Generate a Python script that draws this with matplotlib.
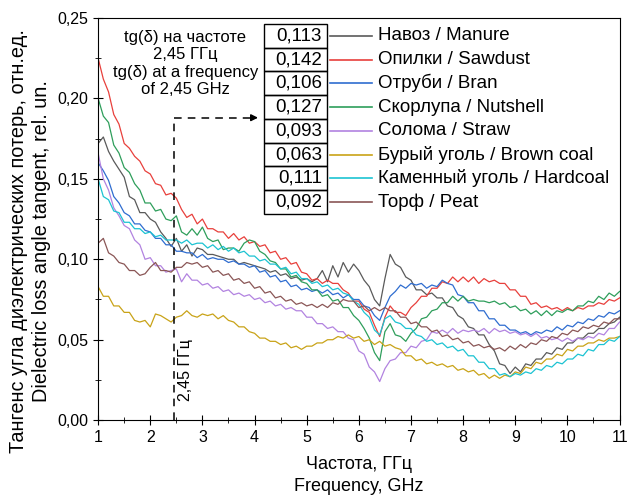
import numpy as np
import matplotlib.pyplot as plt
import matplotlib.ticker as mtick
from matplotlib.patches import Rectangle

plt.rcParams["font.family"] = ["Liberation Sans", "DejaVu Sans"]
plt.rcParams["font.size"] = 11

# frequency grid, GHz (1.0 ... 11.0, step 0.1)
freq = np.round(np.arange(1.0, 11.05, 0.1), 1)

manure = [0.172, 0.176, 0.167, 0.161, 0.156, 0.151, 0.139, 0.137, 0.129, 0.129,
          0.125, 0.123, 0.117, 0.113, 0.108, 0.113, 0.105, 0.109, 0.102, 0.107,
          0.106, 0.103, 0.103, 0.102, 0.101, 0.100, 0.100, 0.097, 0.098, 0.097,
          0.096, 0.095, 0.094, 0.092, 0.093, 0.090, 0.091, 0.088, 0.089, 0.087,
          0.088, 0.086, 0.088, 0.093, 0.086, 0.096, 0.089, 0.098, 0.092, 0.097,
          0.093, 0.087, 0.083, 0.075, 0.071, 0.088, 0.103, 0.097, 0.095, 0.089,
          0.087, 0.081, 0.081, 0.078, 0.079, 0.076, 0.076, 0.071, 0.070, 0.065,
          0.063, 0.058, 0.057, 0.053, 0.053, 0.047, 0.043, 0.035, 0.034, 0.029,
          0.033, 0.030, 0.035, 0.034, 0.038, 0.038, 0.042, 0.041, 0.045, 0.044,
          0.048, 0.048, 0.051, 0.051, 0.054, 0.054, 0.057, 0.057, 0.060, 0.061,
          0.064]
sawdust = [0.225, 0.212, 0.204, 0.190, 0.184, 0.172, 0.169, 0.164, 0.161, 0.155,
           0.153, 0.147, 0.146, 0.140, 0.141, 0.138, 0.131, 0.126, 0.128, 0.122,
           0.125, 0.119, 0.119, 0.117, 0.117, 0.113, 0.116, 0.112, 0.114, 0.110,
           0.111, 0.108, 0.109, 0.104, 0.105, 0.100, 0.101, 0.097, 0.098, 0.092,
           0.091, 0.087, 0.088, 0.085, 0.087, 0.085, 0.085, 0.081, 0.079, 0.074,
           0.074, 0.069, 0.067, 0.059, 0.052, 0.064, 0.071, 0.067, 0.067, 0.065,
           0.070, 0.073, 0.077, 0.077, 0.082, 0.082, 0.086, 0.085, 0.089, 0.086,
           0.089, 0.086, 0.089, 0.085, 0.088, 0.086, 0.087, 0.085, 0.085, 0.081,
           0.081, 0.077, 0.077, 0.072, 0.073, 0.070, 0.071, 0.069, 0.070, 0.068,
           0.070, 0.068, 0.070, 0.069, 0.071, 0.071, 0.073, 0.072, 0.075, 0.074,
           0.076]
bran = [0.160, 0.155, 0.149, 0.139, 0.135, 0.129, 0.127, 0.122, 0.122, 0.118,
        0.117, 0.113, 0.113, 0.109, 0.109, 0.105, 0.105, 0.104, 0.104, 0.101,
        0.103, 0.100, 0.101, 0.100, 0.100, 0.098, 0.099, 0.097, 0.097, 0.095,
        0.096, 0.092, 0.093, 0.089, 0.090, 0.086, 0.087, 0.083, 0.084, 0.081,
        0.082, 0.080, 0.081, 0.079, 0.081, 0.078, 0.079, 0.076, 0.078, 0.075,
        0.075, 0.071, 0.070, 0.065, 0.062, 0.070, 0.077, 0.080, 0.084, 0.082,
        0.085, 0.084, 0.085, 0.082, 0.084, 0.083, 0.087, 0.085, 0.084, 0.078,
        0.077, 0.073, 0.073, 0.068, 0.068, 0.063, 0.063, 0.059, 0.059, 0.056,
        0.056, 0.054, 0.055, 0.053, 0.055, 0.054, 0.056, 0.055, 0.058, 0.056,
        0.059, 0.058, 0.061, 0.060, 0.063, 0.062, 0.065, 0.064, 0.067, 0.066,
        0.068]
nutshell = [0.200, 0.189, 0.185, 0.171, 0.166, 0.157, 0.154, 0.147, 0.143, 0.135,
            0.135, 0.130, 0.131, 0.125, 0.124, 0.127, 0.117, 0.115, 0.119, 0.115,
            0.120, 0.113, 0.111, 0.112, 0.106, 0.107, 0.107, 0.105, 0.110, 0.112,
            0.111, 0.105, 0.103, 0.099, 0.098, 0.094, 0.094, 0.089, 0.090, 0.086,
            0.085, 0.081, 0.081, 0.077, 0.078, 0.074, 0.075, 0.070, 0.070, 0.065,
            0.062, 0.057, 0.051, 0.042, 0.037, 0.055, 0.060, 0.053, 0.052, 0.049,
            0.054, 0.057, 0.063, 0.064, 0.068, 0.069, 0.073, 0.073, 0.077, 0.074,
            0.077, 0.074, 0.075, 0.074, 0.074, 0.073, 0.074, 0.072, 0.073, 0.070,
            0.071, 0.068, 0.069, 0.066, 0.068, 0.065, 0.068, 0.065, 0.068, 0.067,
            0.069, 0.068, 0.071, 0.071, 0.074, 0.073, 0.077, 0.075, 0.079, 0.077,
            0.080]
straw = [0.166, 0.150, 0.143, 0.132, 0.127, 0.121, 0.119, 0.112, 0.109, 0.100,
         0.101, 0.096, 0.096, 0.092, 0.093, 0.094, 0.086, 0.091, 0.087, 0.087,
         0.084, 0.085, 0.082, 0.083, 0.080, 0.081, 0.078, 0.079, 0.077, 0.078,
         0.075, 0.076, 0.073, 0.074, 0.071, 0.072, 0.069, 0.070, 0.068, 0.068,
         0.064, 0.064, 0.060, 0.060, 0.057, 0.058, 0.055, 0.055, 0.051, 0.050,
         0.043, 0.041, 0.033, 0.030, 0.024, 0.032, 0.037, 0.038, 0.042, 0.042,
         0.046, 0.045, 0.049, 0.050, 0.055, 0.054, 0.056, 0.054, 0.057, 0.054,
         0.056, 0.055, 0.056, 0.055, 0.057, 0.054, 0.057, 0.055, 0.056, 0.054,
         0.055, 0.053, 0.054, 0.052, 0.054, 0.051, 0.052, 0.050, 0.051, 0.049,
         0.051, 0.049, 0.051, 0.050, 0.052, 0.051, 0.054, 0.053, 0.057, 0.057,
         0.061]
brown_coal = [0.083, 0.077, 0.077, 0.071, 0.071, 0.067, 0.067, 0.062, 0.061, 0.062,
              0.058, 0.066, 0.065, 0.063, 0.061, 0.064, 0.065, 0.068, 0.065, 0.064,
              0.066, 0.065, 0.066, 0.063, 0.065, 0.062, 0.061, 0.058, 0.058, 0.055,
              0.054, 0.051, 0.051, 0.049, 0.049, 0.047, 0.048, 0.045, 0.046, 0.044,
              0.046, 0.046, 0.048, 0.048, 0.050, 0.050, 0.052, 0.051, 0.053, 0.051,
              0.052, 0.049, 0.050, 0.047, 0.049, 0.046, 0.047, 0.045, 0.044, 0.040,
              0.040, 0.037, 0.038, 0.035, 0.036, 0.034, 0.035, 0.033, 0.034, 0.031,
              0.032, 0.030, 0.031, 0.028, 0.029, 0.026, 0.028, 0.026, 0.028, 0.027,
              0.030, 0.029, 0.033, 0.032, 0.036, 0.035, 0.038, 0.038, 0.041, 0.040,
              0.044, 0.043, 0.046, 0.046, 0.048, 0.048, 0.050, 0.049, 0.051, 0.051,
              0.052]
hardcoal = [0.150, 0.139, 0.137, 0.130, 0.129, 0.123, 0.123, 0.119, 0.119, 0.116,
            0.117, 0.114, 0.115, 0.112, 0.112, 0.112, 0.110, 0.112, 0.109, 0.110,
            0.110, 0.107, 0.109, 0.106, 0.108, 0.105, 0.107, 0.104, 0.105, 0.102,
            0.102, 0.099, 0.100, 0.097, 0.097, 0.094, 0.095, 0.091, 0.092, 0.088,
            0.088, 0.085, 0.086, 0.083, 0.084, 0.081, 0.082, 0.079, 0.078, 0.074,
            0.072, 0.067, 0.064, 0.056, 0.053, 0.063, 0.065, 0.061, 0.060, 0.057,
            0.057, 0.053, 0.052, 0.049, 0.050, 0.047, 0.048, 0.045, 0.046, 0.043,
            0.044, 0.040, 0.040, 0.036, 0.036, 0.032, 0.032, 0.028, 0.029, 0.027,
            0.029, 0.028, 0.030, 0.029, 0.032, 0.031, 0.034, 0.033, 0.036, 0.035,
            0.038, 0.038, 0.041, 0.040, 0.044, 0.043, 0.047, 0.047, 0.050, 0.049,
            0.052]
peat = [0.110, 0.113, 0.104, 0.102, 0.098, 0.097, 0.093, 0.093, 0.090, 0.091,
        0.095, 0.098, 0.093, 0.093, 0.092, 0.095, 0.095, 0.098, 0.097, 0.098,
        0.095, 0.096, 0.092, 0.093, 0.090, 0.091, 0.087, 0.088, 0.085, 0.086,
        0.082, 0.083, 0.079, 0.080, 0.076, 0.077, 0.074, 0.075, 0.072, 0.073,
        0.071, 0.072, 0.070, 0.072, 0.070, 0.073, 0.072, 0.075, 0.074, 0.074,
        0.070, 0.071, 0.068, 0.070, 0.068, 0.070, 0.068, 0.068, 0.064, 0.064,
        0.060, 0.061, 0.058, 0.058, 0.055, 0.056, 0.052, 0.053, 0.050, 0.051,
        0.048, 0.049, 0.046, 0.047, 0.045, 0.046, 0.044, 0.045, 0.043, 0.046,
        0.044, 0.047, 0.045, 0.048, 0.047, 0.050, 0.049, 0.052, 0.051, 0.054,
        0.053, 0.056, 0.055, 0.058, 0.057, 0.059, 0.058, 0.061, 0.060, 0.063,
        0.063]

names = ["Навоз / Manure", "Опилки / Sawdust", "Отруби / Bran", "Скорлупа / Nutshell",
         "Солома / Straw", "Бурый уголь / Brown coal", "Каменный уголь / Hardcoal",
         "Торф / Peat"]
tg_245 = [0.113, 0.142, 0.106, 0.127, 0.093, 0.063, 0.111, 0.092]
colors = ["#5a5a5a", "#e8403c", "#2f6dd0", "#2e9e5b", "#b283e0", "#c9a318",
          "#1cc3d2", "#8a5656"]
series = [manure, sawdust, bran, nutshell, straw, brown_coal, hardcoal, peat]

f_mark = 2.45
y_mark = 0.188

fig, ax = plt.subplots(figsize=(6.29, 4.99), dpi=100)
fig.subplots_adjust(left=0.156, right=0.985, bottom=0.158, top=0.964)

for vals, col in zip(series, colors):
    ax.plot(freq, vals, color=col, lw=0.9)

ax.set_xlim(1, 11)
ax.set_ylim(0, 0.25)
ax.xaxis.set_major_locator(mtick.MultipleLocator(1))
ax.xaxis.set_minor_locator(mtick.MultipleLocator(0.5))
ax.yaxis.set_major_locator(mtick.MultipleLocator(0.05))
ax.yaxis.set_minor_locator(mtick.MultipleLocator(0.025))
ax.yaxis.set_major_formatter(mtick.FuncFormatter(lambda v, p: f"{v:.2f}".replace('.', ',')))
ax.tick_params(which='both', direction='inout', top=False, right=False, labelsize=11.5)
ax.tick_params(which='major', length=7)
ax.tick_params(which='minor', length=4)

ax.set_xlabel("Частота, ГГц\nFrequency, GHz", fontsize=13, labelpad=8, linespacing=1.35)
ax.set_ylabel("Тангенс угла диэлектрических потерь, отн.ед.\nDielectric loss angle tangent, rel. un.",
              fontsize=14.3, linespacing=1.25)
ax.yaxis.set_label_coords(-0.09, 0.445)

# marker of 2.45 GHz
ax.plot([f_mark, f_mark], [0, y_mark], color='k', ls='--', lw=1.1, dashes=(5, 4))
ax.plot([f_mark, 3.95], [y_mark, y_mark], color='k', ls='--', lw=1.1, dashes=(5, 4))
ax.annotate('', xy=(4.12, y_mark), xytext=(3.9, y_mark),
            arrowprops=dict(arrowstyle='-|>', color='k', lw=1.1, mutation_scale=10))
ax.text(f_mark + 0.22, 0.031, "2,45 ГГц", rotation=90, ha='center', va='center', fontsize=11.5)
ax.text(0.167, 0.97, "tg(δ) на частоте\n2,45 ГГц\ntg(δ) at a frequency\nof 2,45 GHz",
        transform=ax.transAxes, ha='center', va='top', fontsize=12, linespacing=1.2)

# value table + legend
bx0, bw, top, rh = 0.318, 0.121, 0.985, 0.0590
for i, (v, name, col) in enumerate(zip(tg_245, names, colors)):
    y0 = top - (i + 1) * rh
    ax.add_patch(Rectangle((bx0, y0), bw, rh, transform=ax.transAxes, fill=False,
                           lw=1, ec='k', clip_on=False, zorder=5))
    yc = y0 + rh / 2
    ax.text(bx0 + bw - 0.01, yc, f"{v:.3f}".replace('.', ','), transform=ax.transAxes,
            ha='right', va='center', fontsize=13.5)
    ax.plot([0.444, 0.526], [yc, yc], color=col, lw=1.2, transform=ax.transAxes)
    ax.text(0.537, yc, name, transform=ax.transAxes, ha='left', va='center', fontsize=13.5)

plt.savefig('out.png', dpi=100)
